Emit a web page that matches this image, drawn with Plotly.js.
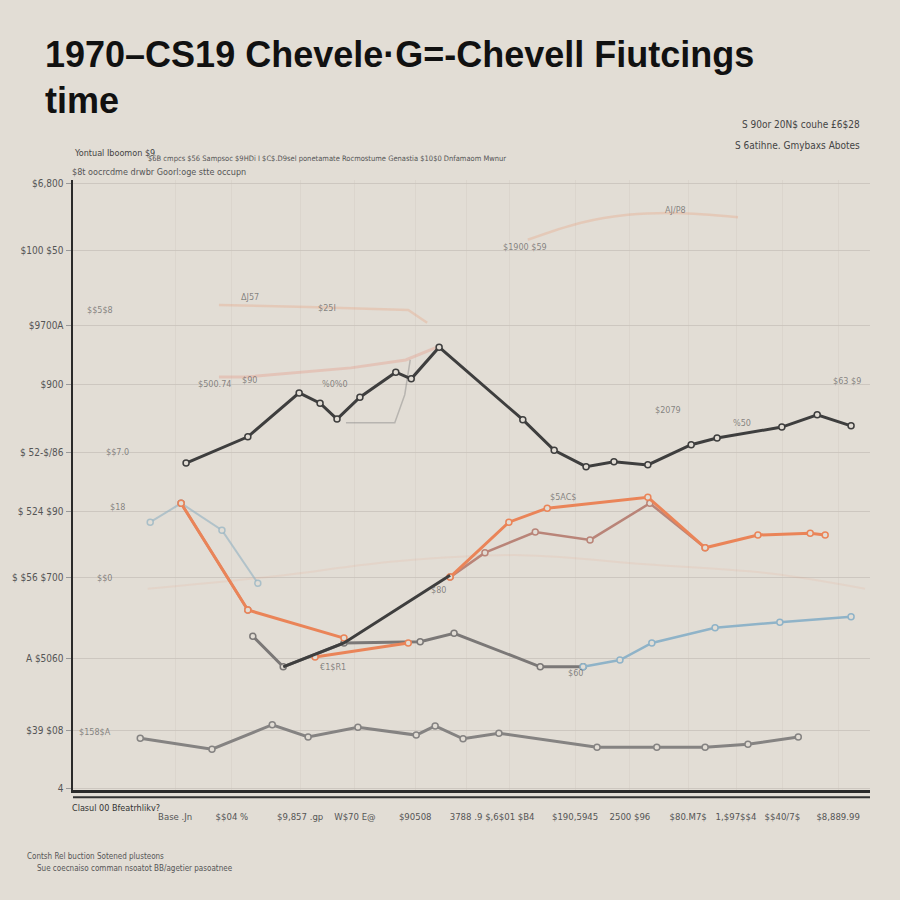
<!DOCTYPE html>
<html>
<head>
<meta charset="utf-8">
<script src="https://cdn.plot.ly/plotly-3.0.1.min.js"></script>
<style>
  html, body { margin: 0; padding: 0; background: #e2ddd5; }
  #chart { width: 900px; height: 900px; }
</style>
</head>
<body>
<div id="chart"></div>
<script>
// ---- data ----
const xTickVals = [2.05, 3.19, 4.56, 5.66, 6.87, 7.89, 8.77, 10.08, 11.18, 12.35, 13.31, 14.24, 15.36];
const xTickText = ["Base .Jn", "$$04 %", "$9,857 .gp", "W$70 E@", "$90508", "3788 .9", "$,6$01 $B4", "$190,5945", "2500 $96", "$80.M7$", "1,$97$$4", "$$40/7$", "$8,889.99"];
const yTickVals = [0.03, 0.98, 2.16, 3.48, 4.56, 5.54, 6.64, 7.62, 8.85, 9.95];
const yTickText = ["4", "$39 $08", "A $5060", "$ $56 $700", "$ 524 $90", "$ 52-$/86", "$900", "$9700A", "$100 $50", "$6,800"];

const darkX = [2.27, 3.51, 4.54, 4.96, 5.30, 5.76, 6.48, 6.79, 7.35, 9.03, 9.66, 10.30, 10.86, 11.54, 12.41, 12.93, 14.23, 14.94, 15.62];
const darkY = [5.36, 5.79, 6.51, 6.34, 6.08, 6.44, 6.85, 6.74, 7.26, 6.07, 5.57, 5.30, 5.38, 5.33, 5.66, 5.77, 5.95, 6.15, 5.97];

const darkRiseX = [4.22, 5.44, 7.57];
const darkRiseY = [2.02, 2.41, 3.52];

const orangeX = [2.17, 3.51, 5.44, null, 4.86, 6.73, null, 7.57, 8.75, 9.52, 11.54, 12.69, 13.75, 14.80, 15.10];
const orangeY = [4.70, 2.95, 2.49, null, 2.18, 2.41, null, 3.49, 4.39, 4.62, 4.80, 3.97, 4.18, 4.21, 4.18];

const roseX = [2.17, 3.51, null, 7.57, 8.27, 9.28, 10.38, 11.58, 12.69];
const roseY = [4.70, 2.95, null, 3.49, 3.89, 4.23, 4.10, 4.70, 3.97];

const grayX = [3.61, 4.22, 5.44, 6.97, 7.65, 9.38, 10.24];
const grayY = [2.52, 2.02, 2.41, 2.43, 2.57, 2.02, 2.02];

const blueX = [10.24, 10.98, 11.62, 12.89, 14.19, 15.62];
const blueY = [2.02, 2.13, 2.41, 2.66, 2.75, 2.84];

const blueLeftX = [1.55, 2.17, 2.99, 3.71];
const blueLeftY = [4.39, 4.70, 4.26, 3.39];

const lowX = [1.35, 2.79, 4.00, 4.72, 5.72, 6.89, 7.27, 7.83, 8.55, 10.52, 11.72, 12.69, 13.55, 14.56];
const lowY = [0.85, 0.67, 1.07, 0.87, 1.03, 0.90, 1.05, 0.84, 0.93, 0.70, 0.70, 0.70, 0.75, 0.87];

const faintTopX = [9.13, 10.20, 11.14, 12.10, 13.35];
const faintTopY = [9.02, 9.30, 9.43, 9.46, 9.39];
const faintMidX = [2.93, 4.72, 6.73, 7.11];
const faintMidY = [7.95, 7.92, 7.87, 7.66];
const faintLowX = [2.93, 3.47, 5.58, 6.68, 7.31];
const faintLowY = [6.77, 6.77, 6.92, 7.05, 7.26];
const faintGrayX = [5.48, 6.46, 6.66, 6.77];
const faintGrayY = [6.02, 6.02, 6.48, 7.05];
const faintCurveX = [1.5, 4.0, 6.5, 9.0, 11.5, 14.0, 15.9];
const faintCurveY = [3.3, 3.5, 3.75, 3.85, 3.7, 3.55, 3.3];

const labelText = ["AJ/P8", "$1900 $59", "ΔJ57", "$25I", "$$5$8", "$63 $9", "$500.74", "$90", "%0%0", "$2079", "%50", "$$7.0", "$18", "$5AC$", "$$0", "$80", "€1$R1", "$60", "$158$A"];
const labelX = [12.09, 9.07, 3.55, 5.10, 0.54, 15.54, 2.85, 3.55, 5.26, 11.95, 13.43, 0.90, 0.90, 9.84, 0.64, 7.33, 5.22, 10.08, 0.44];
const labelY = [9.51, 8.90, 8.08, 7.90, 7.87, 6.70, 6.66, 6.72, 6.66, 6.23, 6.02, 5.54, 4.64, 4.80, 3.48, 3.28, 2.02, 1.92, 0.95];

// ---- traces ----
function line(x, y, color, width, opts) {
  return Object.assign({
    type: 'scatter', mode: 'lines', x: x, y: y, showlegend: false, hoverinfo: 'skip',
    line: { color: color, width: width, shape: 'linear' }, connectgaps: false
  }, opts || {});
}
const mk = (c) => ({ mode: 'lines+markers', marker: { symbol: 'circle', size: 6, color: '#e2ddd5', line: { color: c, width: 1.5 } } });

const traces = [
  line(faintCurveX, faintCurveY, 'rgba(232,140,100,0.10)', 2, { line: { color: 'rgba(232,140,100,0.10)', width: 2, shape: 'spline' } }),
  line(faintTopX, faintTopY, 'rgba(235,150,110,0.28)', 2.5, { line: { color: 'rgba(235,150,110,0.28)', width: 2.5, shape: 'spline' } }),
  line(faintMidX, faintMidY, 'rgba(235,150,110,0.28)', 2.5),
  line(faintLowX, faintLowY, 'rgba(230,140,120,0.30)', 3),
  line(faintGrayX, faintGrayY, 'rgba(120,120,120,0.40)', 1.5),
  line(blueLeftX, blueLeftY, 'rgba(150,180,195,0.65)', 2, mk('rgba(150,180,195,0.75)')),
  line(lowX, lowY, '#858382', 3, mk('#858382')),
  line(grayX, grayY, '#7b7877', 3, mk('#7b7877')),
  line(blueX, blueY, '#8fb3c8', 2.5, mk('#8fb3c8')),
  line(roseX, roseY, '#b98478', 2.5, mk('#b98478')),
  line(orangeX, orangeY, '#ea8458', 3, mk('#ea8458')),
  line(darkRiseX, darkRiseY, '#3e3e3e', 3),
  line(darkX, darkY, '#3e3e3e', 3, mk('#3e3e3e'))
];

const annotations = labelText.map((t, i) => ({
  x: labelX[i], y: labelY[i], xref: 'x', yref: 'y', text: t, showarrow: false,
  font: { family: 'DejaVu Sans Condensed, Liberation Sans, sans-serif', size: 9, color: 'rgba(90,90,90,0.7)' }
}));

const paperText = (t, x, y, size, color, anchor) => ({
  text: t, xref: 'paper', yref: 'paper', x: x, y: y, xanchor: anchor || 'left', yanchor: 'middle',
  showarrow: false, font: { family: 'DejaVu Sans Condensed, Liberation Sans, sans-serif', size: size, color: color }
});
// paper coords: x = (px-73)/797, y = (790-py)/610
annotations.push(
  paperText('S 90or 20N$ couhe £6$28', (862 - 73) / 797, (790 - 124) / 610, 10, '#444', 'right'),
  paperText('S 6atihne. Gmybaxs Abotes', (862 - 73) / 797, (790 - 145) / 610, 10, '#444', 'right'),
  paperText('Yontual Iboomon $9', (72 - 73) / 797, (790 - 153) / 610, 9, '#444'),
  paperText('$6B cmpcs $56 Sampsoc $9HDi I $C$.D9sel ponetamate Rocmostume Genastia $10$0 Dnfamaom Mwnur', (146 - 73) / 797, (790 - 158) / 610, 7.5, '#555'),
  paperText('$8t oocrcdme drwbr Goorl:oge stte occupn', (70 - 73) / 797, (790 - 172) / 610, 9, '#555'),
  paperText('Clasul 00 Bfeatrhlikv?', (70 - 73) / 797, (790 - 808) / 610, 9, '#333'),
  paperText('Contsh Rel buction Sotened plusteons', (25 - 73) / 797, (790 - 856) / 610, 8, '#555'),
  paperText('Sue coecnaiso comman nsoatot BB/agetier pasoatnee', (35 - 73) / 797, (790 - 868) / 610, 8, '#555')
);

const layout = {
  width: 900, height: 900,
  paper_bgcolor: '#e2ddd5', plot_bgcolor: '#e2ddd5',
  margin: { l: 73, r: 30, t: 180, b: 110 },
  title: {
    text: '1970–CS19 Chevele·G=-Chevell Fiutcings<br>time',
    xref: 'container', yref: 'container', x: 0.05, xanchor: 'left', y: 0.926, yanchor: 'top',
    font: { family: 'Liberation Sans, Arial, sans-serif', size: 36, color: '#111', weight: 'bold' }
  },
  xaxis: {
    range: [0, 16], tickmode: 'array', tickvals: xTickVals, ticktext: xTickText,
    showgrid: true, gridcolor: 'rgba(205,199,191,0.35)', zeroline: false,
    showline: true, linecolor: '#2a2a2a', linewidth: 3, mirror: false,
    ticks: '', ticklabelstandoff: 16, tickangle: 0,
    tickfont: { family: 'DejaVu Sans Condensed, Liberation Sans, sans-serif', size: 9.5, color: '#555' }
  },
  yaxis: {
    range: [0, 10], tickmode: 'array', tickvals: yTickVals, ticktext: yTickText,
    showgrid: true, gridcolor: 'rgba(200,194,186,0.8)', zeroline: false,
    showline: true, linecolor: '#2a2a2a', linewidth: 2.5,
    ticks: 'outside', ticklen: 5, tickcolor: '#999',
    tickfont: { family: 'DejaVu Sans Condensed, Liberation Sans, sans-serif', size: 10, color: '#555' }
  },
  shapes: [
    { type: 'line', xref: 'paper', yref: 'paper', x0: 0, x1: 1, y0: -0.012, y1: -0.012, line: { color: '#333', width: 2 } }
  ],
  annotations: annotations,
  showlegend: false
};

Plotly.newPlot('chart', traces, layout, { staticPlot: true, displayModeBar: false });
</script>
</body>
</html>
